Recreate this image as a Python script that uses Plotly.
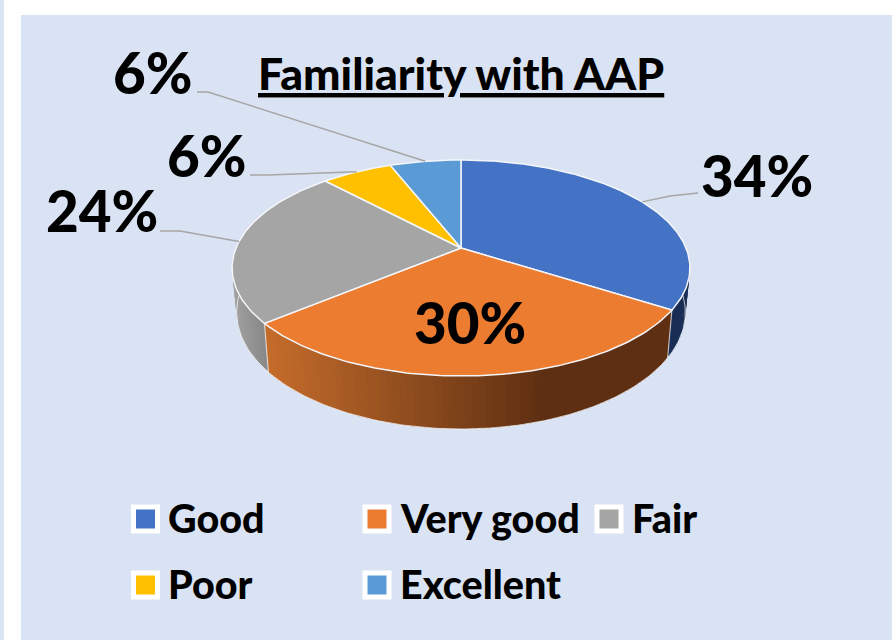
import math
import plotly.graph_objects as go

categories = ["Good", "Very good", "Fair", "Poor", "Excellent"]
values = [34, 30, 24, 6, 6]
pct_labels = ["34%", "30%", "24%", "6%", "6%"]
colors = ["#4472C4", "#EC7C30", "#A5A5A5", "#FFC000", "#5B9BD5"]
title_text = "<u>Familiarity with AAP</u>"

# projection of the tilted disc
CX, CY, A, B, K = 461, 248, 225, 104.3, 0.185
CY2, X2, Y2 = 290.8, 0.98, 1.08
FONT = "Lato"
WEIGHT = 900


def top(t):
    u, v = math.sin(t), math.cos(t)
    s = 1 / (1 + K * v)
    return CX + A * u * s, CY - B * v * s


def bottom(t):
    u, v = math.sin(t), math.cos(t)
    s = 1 / (1 + K * v)
    return CX + X2 * A * u * s, CY2 - Y2 * B * v * s


def lerp_hex(c1, c2, f):
    f = max(0, min(1, f))
    a = [int(c1[i:i + 2], 16) for i in (1, 3, 5)]
    b = [int(c2[i:i + 2], 16) for i in (1, 3, 5)]
    return "rgb(%d,%d,%d)" % tuple(round(p + (q - p) * f) for p, q in zip(a, b))


def wall_color(i, x):
    if i == 0:
        return "#1A2D55"
    if i == 1:
        return lerp_hex("#C46C2B", "#5E2F12", (x - 267) / 273)
    if i == 2:
        return lerp_hex("#A0A0A0", "#858585", (x - 235) / 34)
    return "#888888"


fig = go.Figure()
total = sum(values)
edges = [0]
for val in values:
    edges.append(edges[-1] + val / total * 2 * math.pi)

# side walls: the part of the rim that faces the viewer
vis_start, vis_end = math.radians(92), math.radians(272)
for i in range(len(values)):
    a0, a1 = max(edges[i], vis_start), min(edges[i + 1], vis_end)
    if a1 <= a0:
        continue
    n = max(2, int((a1 - a0) / math.radians(1.5)))
    step = (a1 - a0) / n
    for j in range(n):
        t0 = a0 + step * j
        t1 = min(a0 + step * (j + 1.6), a1)
        p = [top(t0), top(t1), bottom(t1), bottom(t0), top(t0)]
        col = wall_color(i, sum(q[0] for q in p[:4]) / 4)
        fig.add_trace(go.Scatter(x=[q[0] for q in p], y=[q[1] for q in p], mode="lines",
                                 fill="toself", fillcolor=col, line=dict(width=0),
                                 hoverinfo="skip", showlegend=False))

# thin light outline of wall bottom and the wall joints
steps = [vis_start + (vis_end - vis_start) * j / 180 for j in range(181)]
fig.add_trace(go.Scatter(x=[bottom(t)[0] for t in steps], y=[bottom(t)[1] for t in steps], mode="lines",
                         line=dict(color="rgba(255,255,255,0.7)", width=1), hoverinfo="skip", showlegend=False))
for e in edges[1:3]:
    fig.add_trace(go.Scatter(x=[top(e)[0], bottom(e)[0]], y=[top(e)[1], bottom(e)[1]], mode="lines",
                             line=dict(color="rgba(255,255,255,0.6)", width=1.2), hoverinfo="skip", showlegend=False))

# top face slices
for i, name in enumerate(categories):
    n = max(8, int((edges[i + 1] - edges[i]) / math.radians(1)))
    pts = [top(edges[i] + (edges[i + 1] - edges[i]) * j / n) for j in range(n + 1)]
    xs = [CX] + [q[0] for q in pts] + [CX]
    ys = [CY] + [q[1] for q in pts] + [CY]
    fig.add_trace(go.Scatter(x=xs, y=ys, mode="lines", fill="toself", fillcolor=colors[i],
                             line=dict(color="#F4F6FA", width=1.5), name=name, hoverinfo="name",
                             showlegend=False))

# leader lines from slice middles to the labels
label_anchor = {0: (698, 193, 670, 196), 2: (160, 231, 180, 231), 3: (250, 175, 268, 175), 4: (197, 92, 208, 92)}
for i, (lx, ly, kx, ky) in label_anchor.items():
    m = (edges[i] + edges[i + 1]) / 2
    ex, ey = top(m)
    fig.add_trace(go.Scatter(x=[lx, kx, ex], y=[ly, ky, ey], mode="lines",
                             line=dict(color="#A6A6A6", width=1.5), hoverinfo="skip", showlegend=False))

annotations = [dict(x=461, y=72, text=title_text, font=dict(size=44.5, color="black", family=FONT, weight=WEIGHT),
                    showarrow=False, xref="x", yref="y", xanchor="center", yanchor="middle")]
label_pos = [(757, 175), (470, 322), (102, 210), (207, 155), (153, 72)]
for txt, (x, y) in zip(pct_labels, label_pos):
    annotations.append(dict(x=x, y=y, text=txt, showarrow=False, xref="x", yref="y", xanchor="center",
                            yanchor="middle", font=dict(size=56.5, color="black", family=FONT, weight=WEIGHT)))

# legend
legend_pos = [(145.5, 519), (377, 519), (609, 519), (145.5, 585), (377, 585)]
for i, (name, (x, y)) in enumerate(zip(categories, legend_pos)):
    fig.add_trace(go.Scatter(x=[x], y=[y], mode="markers", showlegend=False, hoverinfo="skip",
                             marker=dict(symbol="square", size=24, color=colors[i],
                                         line=dict(color="white", width=5))))
    annotations.append(dict(x=x + 20.5, y=y - 1.5, text=name, showarrow=False, xref="x", yref="y", xanchor="left",
                            yanchor="middle", font=dict(size=39.5, color="black", family=FONT, weight=WEIGHT)))

shapes = [
    dict(type="rect", xref="x", yref="y", x0=0, x1=4, y0=0, y1=640, fillcolor="#DAE3F3", line_width=0, layer="below"),
    dict(type="rect", xref="x", yref="y", x0=21, x1=892, y0=15, y1=640, fillcolor="#DAE3F3", line_width=0, layer="below"),
]

fig.update_layout(
    width=892, height=640, margin=dict(l=0, r=0, t=0, b=0),
    paper_bgcolor="white", plot_bgcolor="white",
    xaxis=dict(range=[0, 892], visible=False, fixedrange=True),
    yaxis=dict(range=[640, 0], visible=False, fixedrange=True),
    annotations=annotations, shapes=shapes, showlegend=False,
)
fig.write_html("out.html", config={"displayModeBar": False},
               post_script="document.body.style.margin='0';document.body.style.overflow='hidden';")
